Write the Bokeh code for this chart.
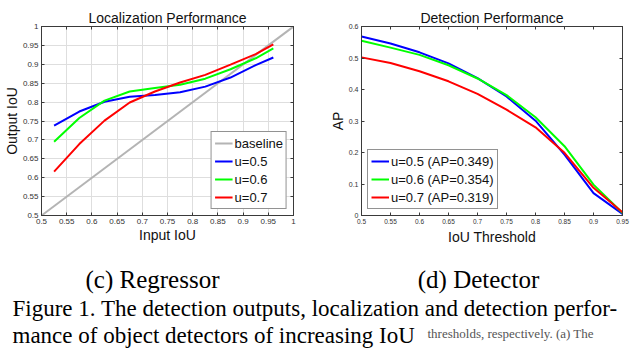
from bokeh.plotting import figure
from bokeh.models import FixedTicker, LinearAxis, Range1d, Legend, LegendItem, Title
from bokeh.layouts import column, row
from bokeh.embed import file_html
from bokeh.resources import INLINE
from bokeh.core.properties import value

# ---------------- data ----------------
loc_x = [0.525, 0.575, 0.625, 0.675, 0.725, 0.775, 0.825, 0.875, 0.925, 0.96]
loc_u5 = [0.738, 0.775, 0.801, 0.814, 0.819, 0.826, 0.841, 0.865, 0.898, 0.918]
loc_u6 = [0.695, 0.758, 0.804, 0.828, 0.837, 0.846, 0.862, 0.887, 0.916, 0.942]
loc_u7 = [0.616, 0.689, 0.751, 0.799, 0.828, 0.852, 0.872, 0.899, 0.927, 0.953]
baseline_x = [0.5, 1.0]
baseline_y = [0.5, 1.0]

det_x = [0.5, 0.55, 0.6, 0.65, 0.7, 0.75, 0.8, 0.85, 0.9, 0.95]
det_u5 = [0.568, 0.546, 0.518, 0.483, 0.436, 0.378, 0.301, 0.193, 0.071, 0.005]
det_u6 = [0.555, 0.533, 0.510, 0.477, 0.435, 0.382, 0.312, 0.220, 0.098, 0.008]
det_u7 = [0.502, 0.484, 0.458, 0.426, 0.386, 0.336, 0.280, 0.199, 0.088, 0.010]

loc_ticks = [0.5, 0.55, 0.6, 0.65, 0.7, 0.75, 0.8, 0.85, 0.9, 0.95, 1.0]
loc_tick_labels = ["0.5", "0.55", "0.6", "0.65", "0.7", "0.75", "0.8", "0.85", "0.9", "0.95", "1"]
det_xticks = [0.5, 0.55, 0.6, 0.65, 0.7, 0.75, 0.8, 0.85, 0.9, 0.95]
det_xtick_labels = ["0.5", "0.55", "0.6", "0.65", "0.7", "0.75", "0.8", "0.85", "0.9", "0.95"]
det_yticks = [0.0, 0.1, 0.2, 0.3, 0.4, 0.5, 0.6]
det_ytick_labels = ["0", "0.1", "0.2", "0.3", "0.4", "0.5", "0.6"]

loc_labels = ["baseline", "u=0.5", "u=0.6", "u=0.7"]
det_labels = ["u=0.5 (AP=0.349)", "u=0.6 (AP=0.354)", "u=0.7 (AP=0.319)"]

caption_sub = ["(c) Regressor", "(d) Detector"]
caption_lines = ["Figure 1. The detection outputs, localization and detection perfor-",
                 "mance of object detectors of increasing IoU"]
caption_tail = ["thresholds, respectively. (a) The"]

SANS = "Liberation Sans"
SERIF = "Liberation Serif"
AX = "#3a3a3a"
BLUE, GREEN, RED, GRAY = "#0000ff", "#00ff00", "#ff0000", "#b4b4b4"


def style_axis(ax, ticks, labels, fs, show_labels=True):
    ax.ticker = FixedTicker(ticks=ticks)
    ax.major_tick_in = 3
    ax.major_tick_out = 0
    ax.minor_tick_line_color = None
    ax.axis_line_color = AX
    ax.major_tick_line_color = AX
    ax.axis_label_text_font = SANS
    ax.axis_label_text_font_style = "normal"
    ax.axis_label_text_font_size = "14px"
    ax.axis_label_text_color = "#111111"
    ax.axis_label_standoff = 0
    if show_labels:
        ax.major_label_overrides = {t: l for t, l in zip(ticks, labels)}
        ax.major_label_text_font = SANS
        ax.major_label_text_color = "#333333"
        ax.major_label_text_font_size = fs
        ax.major_label_standoff = 3
    else:
        ax.major_label_overrides = {t: "" for t in ticks}
        ax.major_label_text_color = None
        ax.major_label_text_font_size = "1px"
        ax.major_label_standoff = 0


def make_fig(fw, fh, xr, yr, bl, br, title):
    p = figure(frame_width=fw, frame_height=fh, x_range=xr, y_range=yr,
               min_border_left=bl, min_border_right=br, min_border_top=26,
               min_border_bottom=35, output_backend="svg", toolbar_location=None,
               title=title)
    p.title.align = "center"
    p.title.text_font = SANS
    p.title.text_font_size = "14px"
    p.title.text_font_style = "normal"
    p.title.text_color = "#111111"
    p.title.standoff = 2
    p.outline_line_color = AX
    p.background_fill_color = "white"
    p.border_fill_color = "white"
    return p


def style_legend(lg):
    lg.margin = 6
    lg.padding = 3
    lg.spacing = 2
    lg.glyph_width = 18
    lg.glyph_height = 16
    lg.label_height = 16
    lg.label_standoff = 2
    lg.label_text_font = SANS
    lg.label_text_font_size = "13px"
    lg.label_text_color = "#111111"
    lg.border_line_color = "#262626"
    lg.border_line_width = 1
    lg.background_fill_alpha = 1.0


# ---------------- left plot ----------------
p1 = make_fig(252, 189, Range1d(0.5, 1.0), Range1d(0.5, 1.0), 39, 19, "Localization Performance")
style_axis(p1.xaxis[0], loc_ticks, loc_tick_labels, "8px")
style_axis(p1.yaxis[0], loc_ticks, loc_tick_labels, "8px")
p1.xaxis[0].axis_label = "Input IoU"
p1.yaxis[0].axis_label = "Output IoU"
top1 = LinearAxis()
style_axis(top1, loc_ticks, loc_tick_labels, "1px", show_labels=False)
right1 = LinearAxis()
style_axis(right1, loc_ticks, loc_tick_labels, "1px", show_labels=False)
p1.add_layout(top1, "above")
p1.add_layout(right1, "right")
p1.xgrid.ticker = FixedTicker(ticks=loc_ticks)
p1.ygrid.ticker = FixedTicker(ticks=loc_ticks)
p1.grid.grid_line_color = "#dedede"
p1.grid.grid_line_width = 1

r0 = p1.line(baseline_x, baseline_y, line_color=GRAY, line_width=2)
r1 = p1.line(loc_x, loc_u5, line_color=BLUE, line_width=2)
r2 = p1.line(loc_x, loc_u6, line_color=GREEN, line_width=2)
r3 = p1.line(loc_x, loc_u7, line_color=RED, line_width=2)

leg1 = Legend(items=[LegendItem(label=l, renderers=[r]) for l, r in zip(loc_labels, [r0, r1, r2, r3])],
              location="bottom_right")
style_legend(leg1)
p1.add_layout(leg1)

# ---------------- right plot ----------------
p2 = make_fig(261, 189, Range1d(0.5, 0.95), Range1d(0.0, 0.6), 49, 11, "Detection Performance")
p2.title.offset = -5
style_axis(p2.xaxis[0], det_xticks, det_xtick_labels, "6.5px")
style_axis(p2.yaxis[0], det_yticks, det_ytick_labels, "7px")
p2.yaxis[0].axis_label = "AP"
top2 = LinearAxis()
style_axis(top2, det_xticks, det_xtick_labels, "1px", show_labels=False)
right2 = LinearAxis()
style_axis(right2, det_yticks, det_ytick_labels, "1px", show_labels=False)
p2.add_layout(top2, "above")
p2.add_layout(right2, "right")
p2.add_layout(Title(text="IoU Threshold", align="center", offset=-5, text_font=SANS,
                    text_font_size="14px", text_font_style="normal", text_color="#111111",
                    standoff=0), "below")
p2.grid.grid_line_color = None

d1 = p2.line(det_x, det_u5, line_color=BLUE, line_width=2)
d2 = p2.line(det_x, det_u6, line_color=GREEN, line_width=2)
d3 = p2.line(det_x, det_u7, line_color=RED, line_width=2)
leg2 = Legend(items=[LegendItem(label=l, renderers=[r]) for l, r in zip(det_labels, [d1, d2, d3])],
              location="bottom_left")
style_legend(leg2)
p2.add_layout(leg2)

# ---------------- caption ----------------
p3 = figure(width=631, height=98, x_range=Range1d(0, 631), y_range=Range1d(98, 0),
            min_border=0, output_backend="svg", toolbar_location=None)
p3.axis.visible = False
p3.grid.grid_line_color = None
p3.outline_line_color = None
p3.text(x=[152, 478], y=[29, 29], text=caption_sub, text_font=value(SERIF),
        text_font_size="25px", text_align="center", text_baseline="alphabetic", text_color="black")
p3.text(x=[12, 12], y=[58, 85], text=caption_lines, text_font=value(SERIF),
        text_font_size="23px", text_align="left", text_baseline="alphabetic", text_color="black")
p3.text(x=[427], y=[83], text=caption_tail, text_font=value(SERIF),
        text_font_size="13px", text_align="left", text_baseline="alphabetic", text_color="#555555")

layout = column(row(p1, p2, spacing=0), p3, spacing=0)
open("out.html", "w").write(file_html(layout, INLINE))
